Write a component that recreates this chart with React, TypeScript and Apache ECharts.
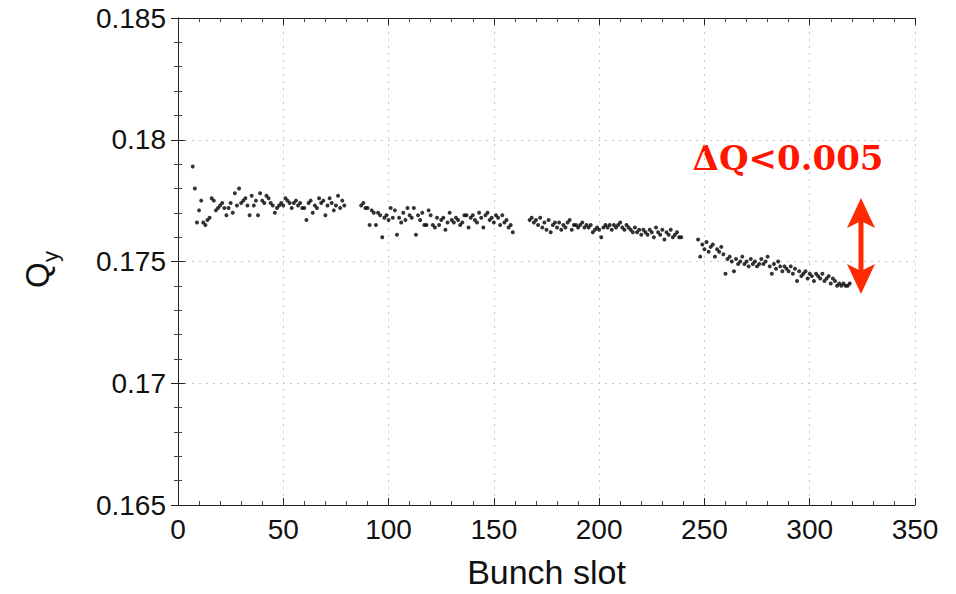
import React, { useEffect, useRef } from "react";
import * as echarts from "echarts";

// Bunch slot of the first bunch in each batch
const batchStarts = [7, 87, 167, 247];

// Q_y per bunch, one value per consecutive slot, per batch
const batch1 = [
  0.1789, 0.1780, 0.1766, 0.1771, 0.1775, 0.1766, 0.1765, 0.1767, 0.1768, 0.1776,
  0.1775, 0.1771, 0.1772, 0.1773, 0.1774, 0.1772, 0.1769, 0.1772, 0.1774, 0.1770,
  0.1778, 0.1773, 0.1780, 0.1774, 0.1775, 0.1776, 0.1773, 0.1769, 0.1777, 0.1773,
  0.1775, 0.1769, 0.1778, 0.1775, 0.1774, 0.1777, 0.1776, 0.1774, 0.1773, 0.1770,
  0.1772, 0.1773, 0.1774, 0.1773, 0.1776, 0.1775, 0.1774, 0.1772, 0.1774, 0.1775,
  0.1773, 0.1774, 0.1772, 0.1772, 0.1767, 0.1774, 0.1775, 0.1770, 0.1773, 0.1772,
  0.1776, 0.1774, 0.1775, 0.1769, 0.1773, 0.1776, 0.1774, 0.1771, 0.1773, 0.1777,
  0.1772, 0.1775, 0.1773,
];
const batch2 = [
  0.1773, 0.1774, 0.1772, 0.1772, 0.1765, 0.1771, 0.1770, 0.1765, 0.1770, 0.1769,
  0.1760, 0.1768, 0.1769, 0.1767, 0.1772, 0.1768, 0.1771, 0.1761, 0.1768, 0.1766,
  0.1770, 0.1767, 0.1772, 0.1769, 0.1768, 0.1772, 0.1761, 0.1769, 0.1767, 0.1770,
  0.1765, 0.1765, 0.1771, 0.1769, 0.1765, 0.1764, 0.1768, 0.1765, 0.1767, 0.1768,
  0.1763, 0.1766, 0.1770, 0.1767, 0.1766, 0.1768, 0.1767, 0.1765, 0.1766, 0.1769,
  0.1769, 0.1764, 0.1768, 0.1769, 0.1767, 0.1766, 0.1770, 0.1768, 0.1764, 0.1769,
  0.1770, 0.1767, 0.1768, 0.1766, 0.1769, 0.1768, 0.1765, 0.1769, 0.1766, 0.1767,
  0.1764, 0.1765, 0.1762,
];
const batch3 = [
  0.1767, 0.1768, 0.1766, 0.1767, 0.1765, 0.1768, 0.1764, 0.1766, 0.1763, 0.1767,
  0.1762, 0.1765, 0.1766, 0.1764, 0.1766, 0.1763, 0.1765, 0.1764, 0.1766, 0.1767,
  0.1763, 0.1765, 0.1765, 0.1764, 0.1765, 0.1766, 0.1764, 0.1765, 0.1764, 0.1765,
  0.1762, 0.1763, 0.1764, 0.1763, 0.1760, 0.1764, 0.1765, 0.1764, 0.1765, 0.1763,
  0.1765, 0.1764, 0.1765, 0.1766, 0.1764, 0.1763, 0.1765, 0.1764, 0.1763, 0.1762,
  0.1764, 0.1762, 0.1763, 0.1761, 0.1763, 0.1762, 0.1761, 0.1763, 0.1762, 0.1760,
  0.1764, 0.1762, 0.1761, 0.1763, 0.1759, 0.1762, 0.1761, 0.1763, 0.1760, 0.1761,
  0.1762, 0.1760, 0.1760,
];
const batch4 = [
  0.1759, 0.1752, 0.1757, 0.1755, 0.1758, 0.1754, 0.1756, 0.1757, 0.1752, 0.1755,
  0.1754, 0.1756, 0.1753, 0.1745, 0.1751, 0.1752, 0.1750, 0.1746, 0.1751, 0.1749,
  0.1750, 0.1752, 0.1749, 0.1750, 0.1748, 0.1751, 0.1749, 0.1750, 0.1748, 0.1749,
  0.1751, 0.1749, 0.1750, 0.1752, 0.1748, 0.1745, 0.1749, 0.1747, 0.1750, 0.1748,
  0.1746, 0.1748, 0.1747, 0.1746, 0.1748, 0.1745, 0.1747, 0.1742, 0.1746, 0.1744,
  0.1745, 0.1746, 0.1743, 0.1745, 0.1744, 0.1742, 0.1745, 0.1744, 0.1743, 0.1745,
  0.1742, 0.1743, 0.1744, 0.1741, 0.1743, 0.1742, 0.1740, 0.1741, 0.1740, 0.1741,
  0.1740, 0.1740, 0.1741,
];
const batches = [batch1, batch2, batch3, batch4];

const xTicks = [0, 350, 50];
const yTicks = [0.165, 0.185, 0.005];
const xName = "Bunch slot";
const yNameMain = "Q";
const yNameSub = "y";
const annotation = "ΔQ<0.005";

const FONT = "'Liberation Sans', Arial, Helvetica, sans-serif";
const RED = "#ff2a00";

export default function App() {
  const ref = useRef<HTMLDivElement>(null);
  useEffect(() => {
    if (!ref.current) return;
    const chart = echarts.init(ref.current, null, { renderer: "svg" });
    const data: number[][] = [];
    batches.forEach((b, k) => b.forEach((v, i) => data.push([batchStarts[k] + i, v])));

    const grid = { left: 178, top: 18, width: 737, height: 495 };
    const tickCommon = {
      axisLine: { show: true, lineStyle: { color: "#222", width: 1 } },
      axisTick: { show: true, inside: true, length: 7, lineStyle: { color: "#222" } },
      minorTick: { show: true, splitNumber: 5, length: 4, lineStyle: { color: "#444" } },
    };

    chart.setOption({
      animation: false,
      backgroundColor: "#fff",
      grid,
      xAxis: [
        {
          type: "value",
          min: xTicks[0],
          max: xTicks[1],
          interval: xTicks[2],
          position: "bottom",
          ...tickCommon,
          splitLine: { show: true, lineStyle: { color: "#c8c8c8", type: [2, 5], width: 1 } },
          axisLabel: { fontSize: 28, color: "#111", fontFamily: FONT, margin: 10 },
          name: xName,
          nameLocation: "middle",
          nameGap: 50,
          nameTextStyle: { fontSize: 34, color: "#111", fontFamily: FONT },
        },
        {
          type: "value",
          min: xTicks[0],
          max: xTicks[1],
          interval: xTicks[2],
          position: "top",
          ...tickCommon,
          splitLine: { show: false },
          axisLabel: { show: false },
        },
      ],
      yAxis: [
        {
          type: "value",
          min: yTicks[0],
          max: yTicks[1],
          interval: yTicks[2],
          position: "left",
          ...tickCommon,
          splitLine: { show: true, lineStyle: { color: "#c8c8c8", type: [2, 5], width: 1 } },
          axisLabel: {
            fontSize: 28,
            color: "#111",
            fontFamily: FONT,
            margin: 12,
            formatter: (v: number) => String(+v.toFixed(3)),
          },
        },
        {
          type: "value",
          min: yTicks[0],
          max: yTicks[1],
          interval: yTicks[2],
          position: "right",
          ...tickCommon,
          splitLine: { show: false },
          axisLabel: { show: false },
        },
      ],
      graphic: [
        {
          type: "group",
          x: 54,
          y: 288,
          rotation: Math.PI / 2,
          children: [
            {
              type: "text",
              x: 0,
              y: 0,
              style: { text: yNameMain, fontSize: 33, fontFamily: FONT, fill: "#111", textVerticalAlign: "bottom" },
            },
            {
              type: "text",
              x: 26,
              y: 7,
              style: { text: yNameSub, fontSize: 22, fontFamily: FONT, fill: "#111", textVerticalAlign: "bottom" },
            },
          ],
        },
        {
          type: "text",
          x: 788,
          y: 158,
          style: {
            text: annotation,
            fontSize: 34,
            fontWeight: "bold",
            fontFamily: "'DejaVu Serif', 'Liberation Serif', serif",
            fill: "#ff1500",
            textAlign: "center",
            textVerticalAlign: "middle",
          },
        },
        {
          type: "line",
          shape: { x1: 861, y1: 215, x2: 861, y2: 277 },
          style: { stroke: RED, lineWidth: 5 },
        },
        {
          type: "polygon",
          shape: { points: [[861, 198], [875, 228], [861, 221], [847, 228]] },
          style: { fill: RED },
        },
        {
          type: "polygon",
          shape: { points: [[861, 294], [875, 264], [861, 271], [847, 264]] },
          style: { fill: RED },
        },
      ],
      series: [
        {
          type: "scatter",
          xAxisIndex: 0,
          yAxisIndex: 0,
          data,
          symbol: "circle",
          symbolSize: 4,
          itemStyle: { color: "#000" },
        },
      ],
    });
    return () => chart.dispose();
  }, []);
  return <div ref={ref} style={{ width: 956, height: 594, margin: -8 }} />;
}
